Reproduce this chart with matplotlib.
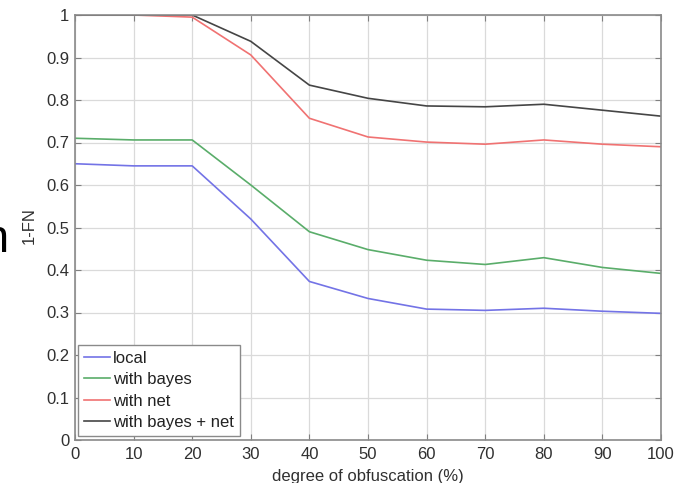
import matplotlib
matplotlib.use("Agg")
import matplotlib.pyplot as plt
from matplotlib.ticker import FuncFormatter

plt.rcParams['font.family'] = ['Liberation Sans', 'DejaVu Sans']

# --- data ---
obfuscation = [0, 10, 20, 30, 40, 50, 60, 70, 80, 90, 100]
local = [0.65, 0.645, 0.645, 0.52, 0.373, 0.333, 0.308, 0.305, 0.31, 0.303, 0.298]
with_bayes = [0.71, 0.706, 0.706, 0.60, 0.49, 0.448, 0.423, 0.413, 0.429, 0.406, 0.392]
with_net = [1.0, 1.0, 0.995, 0.906, 0.757, 0.713, 0.701, 0.696, 0.706, 0.696, 0.69]
with_bayes_net = [1.0, 1.0, 1.0, 0.938, 0.835, 0.804, 0.786, 0.784, 0.79, 0.776, 0.762]

series_labels = ['local', 'with bayes', 'with net', 'with bayes + net']
series_colors = ['#7373e6', '#5aad6a', '#f07272', '#454545']

fig = plt.figure(figsize=(6.8, 4.83), dpi=100)
ax = fig.add_axes([75 / 680, 43 / 483, 586 / 680, 425 / 483])

for vals, lab, col in zip([local, with_bayes, with_net, with_bayes_net], series_labels, series_colors):
    ax.plot(obfuscation, vals, color=col, lw=1.2, label=lab)

ax.set_xlim(0, 100)
ax.set_ylim(0, 1)
ax.set_xticks(range(0, 101, 10))
ax.set_yticks([i / 10 for i in range(11)])
ax.yaxis.set_major_formatter(FuncFormatter(lambda v, p: '%g' % round(v, 1)))
ax.grid(True, color='#dadada', lw=0.9)
ax.tick_params(direction='in', length=4, top=True, right=True, labelsize=12,
               color='#808080', labelcolor='#303030')
ax.tick_params(axis='x', pad=5)
ax.tick_params(axis='y', pad=4)
for s in ax.spines.values():
    s.set_color('#8a8a8a')
    s.set_linewidth(1.2)

ax.set_xlabel('degree of obfuscation (%)', fontsize=12, color='#303030', labelpad=5)
ax.set_ylabel('1-FN', fontsize=12, color='#303030')
ax.yaxis.set_label_coords(-0.065, 0.504)

leg = ax.legend(loc='lower left', bbox_to_anchor=(0.005, 0.01), fontsize=12, fancybox=False,
                framealpha=1, edgecolor='#8a8a8a', handlelength=1.6, handletextpad=0.15,
                labelspacing=0.38, borderpad=0.35, borderaxespad=0)
for t in leg.get_texts():
    t.set_color('#222222')

# fragment of a cut-off caption at the left edge
fig.text(9 / 680, 1 - 252 / 483, 'n', fontsize=34, ha='right', va='baseline', color='black')

fig.savefig('out.png', dpi=100)
